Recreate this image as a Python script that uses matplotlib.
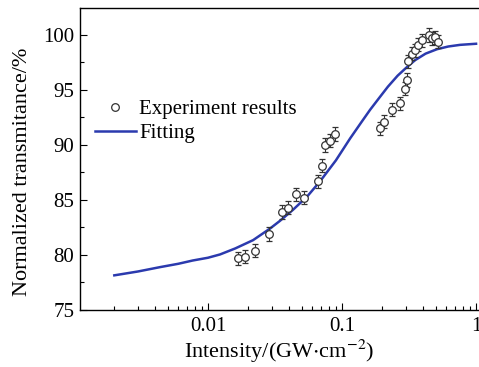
import matplotlib
matplotlib.use("Agg")
import matplotlib.pyplot as plt
from matplotlib.lines import Line2D
from matplotlib.ticker import MultipleLocator, LogLocator, FixedLocator, NullFormatter

plt.rcParams['font.family'] = ['Liberation Serif', 'DejaVu Serif']
plt.rcParams['mathtext.fontset'] = 'stix'

# measured transmittance vs intensity
exp_I = [0.0168, 0.0189, 0.0224, 0.0287, 0.0355, 0.0398, 0.0450, 0.0520,
         0.0666, 0.0705, 0.0747, 0.0814, 0.0886,
         0.192, 0.205, 0.235, 0.270, 0.295, 0.304, 0.313, 0.330, 0.350,
         0.370, 0.394, 0.443, 0.470, 0.490, 0.523]
exp_T = [79.7, 79.85, 80.4, 81.9, 83.9, 84.3, 85.5, 85.2,
         86.7, 88.1, 90.0, 90.4, 91.0,
         91.5, 92.1, 93.2, 93.8, 95.1, 95.9, 97.6, 98.3, 98.6,
         99.1, 99.5, 100.0, 99.7, 99.8, 99.4]
exp_err = [0.6] * len(exp_I)

# fitted curve
fit_I = [0.002, 0.003, 0.0044, 0.006, 0.0077, 0.01, 0.0123, 0.016, 0.0217, 0.029,
         0.0344, 0.0430, 0.0548, 0.0686, 0.090, 0.115, 0.140, 0.162, 0.190,
         0.220, 0.260, 0.300, 0.350, 0.420, 0.510, 0.620, 0.760, 1.0]
fit_T = [78.15, 78.5, 78.9, 79.2, 79.5, 79.75, 80.05, 80.6, 81.35, 82.4,
         83.1, 84.1, 85.3, 86.7, 88.6, 90.6, 92.1, 93.2, 94.3,
         95.3, 96.3, 97.0, 97.7, 98.3, 98.7, 98.95, 99.1, 99.2]

fig = plt.figure(figsize=(4.79, 3.67), dpi=100)
ax = fig.add_axes([80 / 479, 57 / 367, 399 / 479, 302 / 367])

ax.errorbar(exp_I, exp_T, yerr=exp_err, fmt='o', mfc='white', mec='#333333',
            ecolor='#333333', ms=5.5, mew=0.9, elinewidth=0.8, capsize=2.5,
            capthick=0.8, zorder=3)
ax.plot(fit_I, fit_T, color='#2b3aae', lw=1.8, zorder=2)

ax.set_xscale('log')
ax.set_xlim(10 ** -2.955, 10 ** 0.022)
ax.set_ylim(75, 102.45)

ax.xaxis.set_major_locator(FixedLocator([0.01, 0.1, 1]))
ax.set_xticklabels(['0.01', '0.1', '1'])
ax.xaxis.set_minor_locator(LogLocator(base=10, subs=range(2, 10), numticks=20))
ax.xaxis.set_minor_formatter(NullFormatter())
ax.yaxis.set_major_locator(MultipleLocator(5))
ax.yaxis.set_minor_locator(MultipleLocator(2.5))

ax.tick_params(which='both', direction='in', labelsize=15, top=False, right=False)
ax.tick_params(which='major', length=5, width=0.8)
ax.tick_params(which='minor', length=3, width=0.8)
ax.tick_params(axis='x', pad=5)
ax.tick_params(axis='y', pad=4)
ax.spines['right'].set_visible(False)
for s in ['left', 'bottom', 'top']:
    ax.spines[s].set_linewidth(1.0)

ax.set_xlabel('Intensity/(GW$\\cdot$cm$^{-2}$)', fontsize=16, labelpad=1.5)
ax.set_ylabel('Normalized transmitance/%', fontsize=16, labelpad=8)
ax.yaxis.label.set_y(0.457)

handles = [Line2D([], [], ls='none', marker='o', mfc='white', mec='#333333',
                  ms=5.5, mew=0.9),
           Line2D([], [], color='#2b3aae', lw=1.8)]
ax.legend(handles, ['Experiment results', 'Fitting'], loc='upper left',
          bbox_to_anchor=(0.0, 0.745), frameon=False, fontsize=15,
          handlelength=2.0, handletextpad=0.15, labelspacing=0.2,
          borderaxespad=0.3)

fig.savefig('out.png', dpi=100)
